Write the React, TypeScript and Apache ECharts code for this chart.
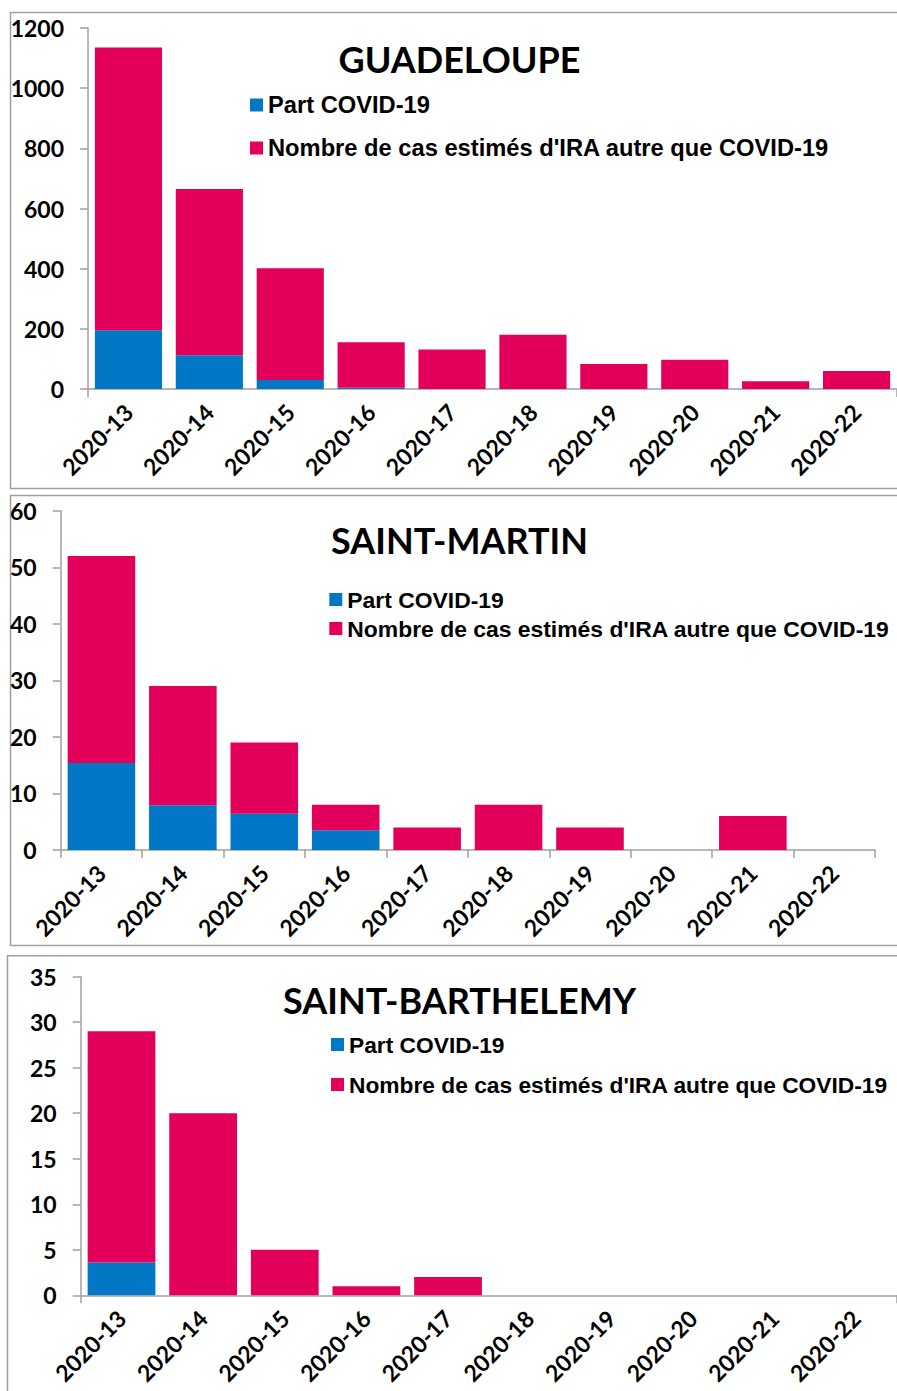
import React, { useEffect, useRef } from "react";
import * as echarts from "echarts";

const categories = [
  "2020-13", "2020-14", "2020-15", "2020-16", "2020-17",
  "2020-18", "2020-19", "2020-20", "2020-21", "2020-22",
];

const seriesCovidName = "Part COVID-19";
const seriesOtherName = "Nombre de cas estimés d'IRA autre que COVID-19";

const guadeloupeCovid = [195, 112, 30, 4, 0, 0, 0, 0, 0, 0];
const guadeloupeOther = [940, 553, 371, 151, 131, 180, 83, 97, 26, 60];

const stMartinCovid = [15.4, 7.9, 6.4, 3.5, 0, 0, 0, 0, 0, 0];
const stMartinOther = [36.6, 21.1, 12.6, 4.5, 4, 8, 4, 0, 6, 0];

const stBarthCovid = [3.6, 0, 0, 0, 0, 0, 0, 0, 0, 0];
const stBarthOther = [25.4, 20, 5, 1, 2, 0, 0, 0, 0, 0];

const titles = ["GUADELOUPE", "SAINT-MARTIN", "SAINT-BARTHELEMY"];
const yMax = [1200, 60, 35];
const yInterval = [200, 10, 5];

const BLUE = "#0277C6";
const PINK = "#E2005A";
const AXIS = "#A0A0A0";
const LABEL_FONT = "Lato";

const panels = [
  {
    title: titles[0], covid: guadeloupeCovid, other: guadeloupeOther,
    max: yMax[0], interval: yInterval[0],
    grid: { left: 88, top: 28, width: 813, height: 361 },
    allTicks: false, titleY: 58.5,
    legend: { left: 250, top: 93, gap: 19, fontSize: 23.7 },
    border: { x: 10.5, y: 12.5, h: 476 },
  },
  {
    title: titles[1], covid: stMartinCovid, other: stMartinOther,
    max: yMax[1], interval: yInterval[1],
    grid: { left: 60.7, top: 510.7, width: 814.3, height: 339.3 },
    allTicks: true, titleY: 540,
    legend: { left: 329.3, top: 587.5, gap: 5, fontSize: 22.9 },
    border: { x: 10.5, y: 495.5, h: 450 },
  },
  {
    title: titles[2], covid: stBarthCovid, other: stBarthOther,
    max: yMax[2], interval: yInterval[2],
    grid: { left: 80.7, top: 976.7, width: 820, height: 318.6 },
    allTicks: false, titleY: 1000,
    legend: { left: 331, top: 1032.5, gap: 16, fontSize: 22.75 },
    border: { x: 7.5, y: 955.7, h: 460 },
  },
];

export default function App() {
  const ref = useRef<HTMLDivElement>(null);

  useEffect(() => {
    if (!ref.current) return;
    const chart = echarts.init(ref.current, null, { renderer: "svg" });

    const labelStyle = {
      fontFamily: LABEL_FONT,
      fontWeight: "bold" as const,
      fontSize: 23,
      color: "#000",
    };

    const option: any = {
      animation: false,
      backgroundColor: "#fff",
      title: panels.map((p) => ({
        text: p.title,
        left: 459.5,
        top: p.titleY,
        textAlign: "center",
        textVerticalAlign: "middle",
        padding: 0,
        textStyle: {
          fontFamily: LABEL_FONT,
          fontWeight: "bold",
          fontSize: 36,
          color: "#000",
        },
      })),
      legend: panels.map((p) => ({
        orient: "vertical",
        left: p.legend.left,
        top: p.legend.top,
        itemGap: p.legend.gap,
        padding: 0,
        icon: "rect",
        itemWidth: 13,
        itemHeight: 13,
        selectedMode: false,
        data: [seriesCovidName, seriesOtherName],
        textStyle: {
          fontFamily: "Liberation Sans",
          fontWeight: "bold",
          fontSize: p.legend.fontSize,
          lineHeight: 24,
          color: "#000",
        },
      })),
      grid: panels.map((p) => ({ ...p.grid, containLabel: false })),
      xAxis: panels.map((p, i) => ({
        type: "category",
        gridIndex: i,
        data: categories,
        axisLine: { show: true, lineStyle: { color: AXIS, width: 1.5 } },
        axisTick: {
          show: true,
          length: 8,
          interval: p.allTicks ? 0 : (idx: number) => idx === 0,
          lineStyle: { color: AXIS, width: 1.5 },
        },
        axisLabel: { ...labelStyle, rotate: 45, interval: 0, margin: 19 },
        splitLine: { show: false },
      })),
      yAxis: panels.map((p, i) => ({
        type: "value",
        gridIndex: i,
        min: 0,
        max: p.max,
        interval: p.interval,
        axisLine: { show: true, lineStyle: { color: AXIS, width: 1.5 } },
        axisTick: { show: true, length: 8, lineStyle: { color: AXIS, width: 1.5 } },
        axisLabel: {
          ...labelStyle,
          margin: 24,
          formatter: (v: number) => String(v),
        },
        splitLine: { show: false },
      })),
      series: panels.flatMap((p, i) => [
        {
          name: seriesCovidName,
          type: "bar",
          stack: "s" + i,
          xAxisIndex: i,
          yAxisIndex: i,
          data: p.covid,
          barCategoryGap: "17%",
          itemStyle: { color: BLUE },
        },
        {
          name: seriesOtherName,
          type: "bar",
          stack: "s" + i,
          xAxisIndex: i,
          yAxisIndex: i,
          data: p.other,
          barCategoryGap: "17%",
          itemStyle: { color: PINK },
        },
      ]),
      graphic: panels.map((p) => ({
        type: "rect",
        shape: { x: p.border.x, y: p.border.y, width: 920, height: p.border.h },
        style: { fill: "none", stroke: AXIS, lineWidth: 1.5 },
        silent: true,
        z: -1,
      })),
    };

    chart.setOption(option);
    return () => chart.dispose();
  }, []);

  return (
    <div
      ref={ref}
      style={{ position: "absolute", left: 0, top: 0, width: 897, height: 1391, background: "#fff" }}
    />
  );
}
